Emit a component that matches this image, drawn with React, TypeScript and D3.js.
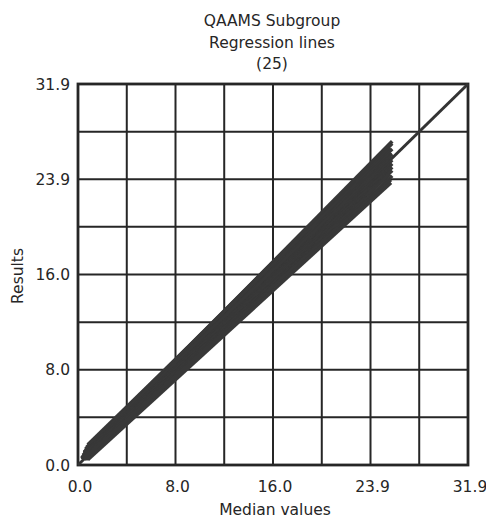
import { useMemo } from "react"
import { scaleLinear, line } from "d3"

// chart data
const titleLines = ["QAAMS Subgroup", "Regression lines", "(25)"]
const axisMax = 31.9
const gridValues = [0, 3.99, 7.975, 11.96, 15.95, 19.94, 23.925, 27.91, 31.9]
const tickValues = [0, 7.975, 15.95, 23.925, 31.9]
const tickLabels = ["0.0", "8.0", "16.0", "23.9", "31.9"]

// 25 regression lines: y = intercept + slope * x over [xStart, xEnd]
const intercepts = [0.5, 0.7, 0.4, 0.9, 0.3, 0.6, 0.2, 0.8, 0.1, 0.5, 0.3, 0.6, 0.0, 0.4, 0.2, 0.5, -0.1, 0.3, 0.1, 0.4, -0.2, 0.2, 0.0, -0.3, 0.1]
const slopes = [1.035, 1.02, 1.025, 0.995, 1.01, 0.99, 1.0, 0.97, 0.99, 0.965, 0.97, 0.95, 0.975, 0.955, 0.955, 0.94, 0.96, 0.94, 0.945, 0.925, 0.95, 0.925, 0.93, 0.935, 0.92]
const xStarts = [0.5, 0.6, 0.4, 0.8, 0.3, 0.5, 0.3, 0.7, 0.4, 0.5, 0.4, 0.6, 0.5, 0.5, 0.3, 0.6, 0.6, 0.4, 0.5, 0.5, 0.7, 0.4, 0.5, 0.8, 0.6]
const xEnds = [25.7, 25.7, 25.5, 25.7, 25.6, 25.7, 25.6, 25.5, 25.7, 25.6, 25.7, 25.5, 25.6, 25.7, 25.6, 25.7, 25.5, 23.6, 23.6, 19.5, 25.7, 25.6, 15.5, 25.6, 11.6]

const W = 486
const H = 520
const font = "'DejaVu Sans', sans-serif"
const ink = "#262626"

export default function App() {
  const x = scaleLinear().domain([0, axisMax]).range([78, 468])
  const y = scaleLinear().domain([0, axisMax]).range([465, 84])

  const path = line<[number, number]>()
    .x(d => x(d[0]))
    .y(d => y(d[1]))

  const regLines = useMemo(() => intercepts.map((a, i) => {
    const b = slopes[i]
    return [[xStarts[i], a + b * xStarts[i]], [xEnds[i], a + b * xEnds[i]]] as [number, number][]
  }), [])

  return (
    <svg width={W} height={H} style={{ position: "absolute", left: 0, top: 0, background: "#fff" }}>
      {/* title */}
      {titleLines.map((t, i) => (
        <text key={t} x={272} y={26 + i * 21.5} textAnchor="middle"
          fontFamily={font} fontSize={15.5} fill={ink}>{t}</text>
      ))}

      {/* grid */}
      {gridValues.map((v, i) => (
        <g key={i} stroke={ink} strokeWidth={2}>
          <line x1={x(v)} x2={x(v)} y1={y(0)} y2={y(axisMax)} />
          <line x1={x(0)} x2={x(axisMax)} y1={y(v)} y2={y(v)} />
        </g>
      ))}
      <rect x={x(0)} y={y(axisMax)} width={x(axisMax) - x(0)} height={y(0) - y(axisMax)}
        fill="none" stroke={ink} strokeWidth={2.8} />

      {/* identity line */}
      <path d={path([[0, 0], [axisMax, axisMax]]) ?? ""} stroke="#333" strokeWidth={3} fill="none" />

      {/* regression lines */}
      <g stroke="#383838" strokeWidth={3.6} fill="none">
        {regLines.map((pts, i) => <path key={i} d={path(pts) ?? ""} />)}
      </g>

      {/* y tick labels */}
      {tickValues.map((v, i) => (
        <text key={"y" + i} x={70} y={y(v)} dy="0.36em" textAnchor="end"
          fontFamily={font} fontSize={15.5} fill={ink}>{tickLabels[i]}</text>
      ))}
      {/* x tick labels */}
      {tickValues.map((v, i) => (
        <text key={"x" + i} x={x(v) + 2} y={492} textAnchor="middle"
          fontFamily={font} fontSize={15.5} fill={ink}>{tickLabels[i]}</text>
      ))}

      <text x={275} y={515} textAnchor="middle" fontFamily={font} fontSize={15.5} fill={ink}>Median values</text>
      <text transform={`translate(23,276) rotate(-90)`} textAnchor="middle"
        fontFamily={font} fontSize={15.5} fill={ink}>Results</text>
    </svg>
  )
}
